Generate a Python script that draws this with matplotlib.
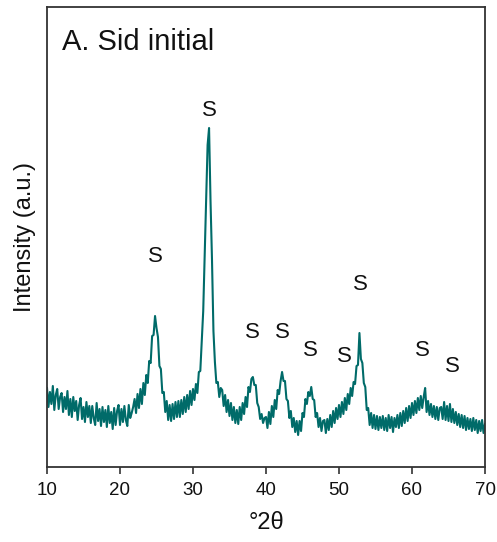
import numpy as np
import matplotlib
matplotlib.use("Agg")
import matplotlib.pyplot as plt

plt.rcParams['font.family'] = ['Liberation Sans', 'DejaVu Sans']

# 2-theta from 10 to 70 deg, step 0.2 (one row = 2 degrees)
two_theta_start = 10.0
two_theta_step = 0.2
intensity = [
    79, 60, 75, 63, 81, 57, 72, 78, 58, 70,        # 10-12
    74, 55, 70, 58, 76, 52, 68, 50, 70, 56,        # 12-14
    66, 47, 62, 69, 48, 60, 45, 65, 50, 61,        # 14-16
    44, 61, 49, 42, 64, 46, 58, 41, 60, 45,        # 16-18
    57, 40, 61, 44, 55, 38, 59, 42, 56, 62,        # 18-20
    42, 58, 45, 61, 47, 41, 62, 49, 54, 60,        # 20-22
    68, 54, 73, 59, 78, 63, 84, 72, 92, 84,        # 22-24
    106, 104, 131, 132, 151, 139, 130, 101, 98, 74,  # 24-26
    75, 55, 66, 47, 62, 46, 63, 48, 65, 50,        # 26-28
    66, 50, 67, 53, 70, 55, 72, 58, 76, 62,        # 28-30
    78, 67, 83, 74, 95, 96, 125, 156, 213, 267,    # 30-32
    322, 339, 266, 208, 136, 105, 84, 85, 70, 79,  # 32-34
    77, 61, 72, 55, 67, 51, 64, 47, 60, 44,        # 34-36
    57, 43, 60, 47, 64, 53, 70, 60, 80, 75,        # 36-38
    88, 90, 82, 82, 64, 60, 48, 53, 44, 49,        # 38-40
    50, 39, 55, 43, 61, 50, 67, 58, 77, 73,        # 40-42
    86, 95, 86, 86, 68, 66, 49, 56, 40, 49,        # 42-44
    35, 46, 32, 46, 36, 54, 50, 68, 63, 75,        # 44-46
    71, 80, 68, 67, 50, 54, 40, 49, 36, 46,        # 46-48
    47, 34, 48, 37, 52, 40, 56, 44, 59, 48,        # 48-50
    62, 50, 65, 53, 69, 57, 73, 63, 79, 71,        # 50-52
    85, 83, 101, 102, 134, 108, 104, 84, 80, 57,   # 52-54
    59, 42, 54, 39, 52, 38, 51, 37, 50, 39,        # 54-56
    51, 37, 49, 36, 52, 39, 50, 35, 49, 40,        # 56-58
    52, 39, 54, 41, 56, 44, 59, 46, 61, 49,        # 58-60
    64, 52, 66, 54, 69, 57, 71, 59, 70, 79,        # 60-62
    55, 66, 52, 63, 50, 61, 48, 60, 47, 59,        # 62-64
    60, 48, 65, 47, 61, 46, 63, 45, 58, 44,        # 64-66
    55, 42, 53, 40, 52, 39, 51, 37, 49, 38,        # 66-68
    48, 36, 49, 37, 47, 34, 46, 36, 47, 34,        # 68-70
    43,
]
two_theta = two_theta_start + two_theta_step * np.arange(len(intensity))

# peak labels (siderite)
label_x = [24.9, 32.2, 38.2, 42.3, 46.1, 50.8, 53.0, 61.4, 65.6]
label_y = [210, 357, 134, 134, 116, 111, 183, 116, 100]
label_text = ["S"] * len(label_x)

xticks = [10, 20, 30, 40, 50, 60, 70]

fig = plt.figure(figsize=(4.97, 5.42), dpi=100)
ax = fig.add_axes([47/497, 1-467/542, (485-47)/497, (467-7)/542])
ax.plot(two_theta, intensity, color="#006B69", lw=1.5)

for x, y, t in zip(label_x, label_y, label_text):
    ax.text(x, y, t, ha="center", va="center", fontsize=16, color="#111111")

ax.text(0.034, 0.925, "A. Sid initial", transform=ax.transAxes,
        fontsize=21, ha="left", va="center", color="#111111")

ax.set_xlim(10, 70)
ax.set_ylim(0, 460)
ax.set_xticks(xticks)
ax.set_xticklabels([str(v) for v in xticks])
ax.set_yticks([])
ax.tick_params(axis="x", direction="out", length=5, width=1.2,
               labelsize=13.5, pad=6, colors="#333333", labelcolor="#111111")
for s in ax.spines.values():
    s.set_color("#333333")
    s.set_linewidth(1.3)
ax.set_xlabel("°2θ", fontsize=17, labelpad=9, color="#111111")
ax.set_ylabel("Intensity (a.u.)", fontsize=17, labelpad=8, color="#111111")

fig.savefig("out.png", dpi=100)
